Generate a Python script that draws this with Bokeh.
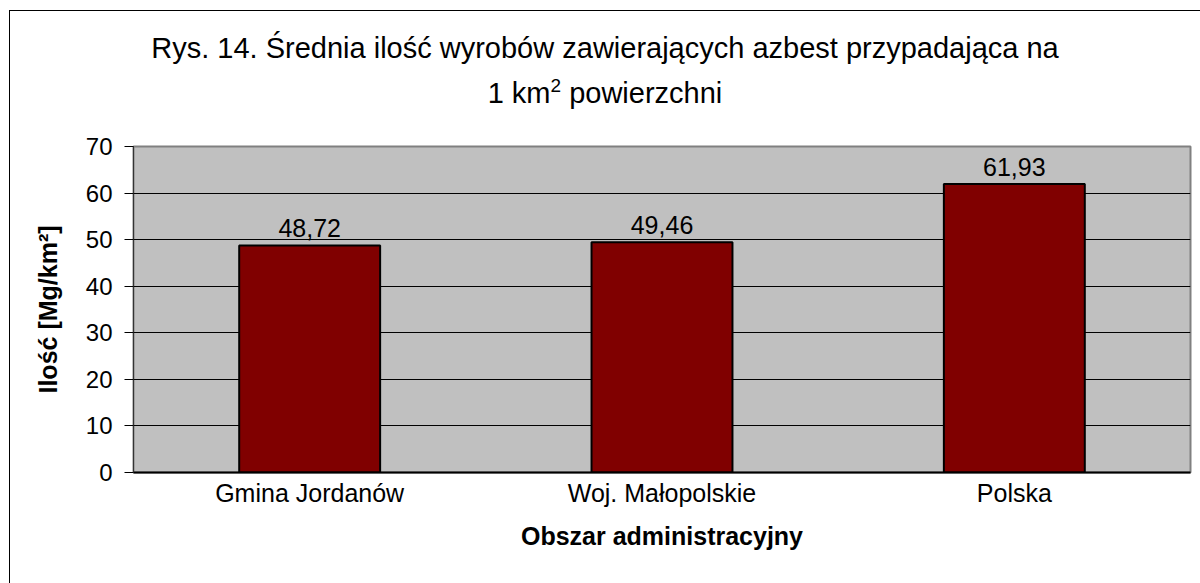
from bokeh.plotting import figure
from bokeh.layouts import column
from bokeh.models import ColumnDataSource, FactorRange, FixedTicker, Div
from bokeh.core.properties import value
from bokeh.embed import file_html
from bokeh.resources import INLINE

categories = ["Gmina Jordanów", "Woj. Małopolskie", "Polska"]
values = [48.72, 49.46, 61.93]
y_ticks = [0, 10, 20, 30, 40, 50, 60, 70]
title_line1 = "Rys. 14. Średnia ilość wyrobów zawierających azbest przypadająca na"
title_line2_pre = "1 km"
title_line2_sup = "2"
title_line2_post = " powierzchni"
x_title = "Obszar administracyjny"
y_title = "Ilość [Mg/km²]"

labels = [f"{v:.2f}".replace(".", ",") for v in values]
label_y = [v + 3.7 for v in values]
src = ColumnDataSource(dict(cat=categories, val=values, label=labels, ly=label_y))

FONT = "Liberation Sans"
W = 1190
DIV_H = 118
FIG_H = 454

title_html = (
    f'<div style="font-family:\'{FONT}\';font-size:29px;line-height:45px;'
    f'width:1178px;display:block;'
    f'text-align:center;padding-top:15px;padding-left:12px;color:black;white-space:nowrap">'
    f'{title_line1}<br>{title_line2_pre}<sup style="font-size:19px;line-height:0;'
    f'vertical-align:11px">{title_line2_sup}</sup>{title_line2_post}</div>'
)
div = Div(text=title_html, width=W, height=DIV_H, margin=0)

p = figure(x_range=FactorRange(*categories), y_range=(0, 70),
           width=W, height=FIG_H, output_backend="svg", toolbar_location=None,
           min_border_left=123, min_border_right=10, min_border_top=17,
           min_border_bottom=111, margin=0)

p.background_fill_color = "#C0C0C0"
p.border_fill_color = "white"
p.outline_line_color = "#808080"
p.outline_line_width = 2
p.xgrid.grid_line_color = None
p.ygrid.grid_line_color = "black"
p.ygrid.grid_line_width = 1

p.vbar(x="cat", top="val", width=0.4, source=src, fill_color="#800000",
       line_color="black", line_width=2)
p.text(x="cat", y="ly", text="label", source=src, text_align="center",
       text_baseline="alphabetic", text_font=value(FONT),
       text_font_size="25px", text_color="black")

ya = p.yaxis[0]
ya.ticker = FixedTicker(ticks=y_ticks)
ya.minor_tick_line_color = None
ya.major_tick_in = 0
ya.major_tick_out = 9
ya.major_tick_line_color = "black"
ya.axis_line_color = "#333333"
ya.axis_line_width = 1
ya.major_label_text_font = FONT
ya.major_label_text_font_size = "24px"
ya.major_label_text_color = "black"
ya.major_label_standoff = 12
ya.axis_label = y_title
ya.axis_label_text_font = FONT
ya.axis_label_text_font_size = "25px"
ya.axis_label_text_font_style = "bold"
ya.axis_label_text_color = "black"
ya.axis_label_standoff = 21

xa = p.xaxis[0]
xa.major_tick_line_color = None
xa.minor_tick_line_color = None
xa.axis_line_color = "black"
xa.axis_line_width = 2
xa.major_label_text_font = FONT
xa.major_label_text_font_size = "25px"
xa.major_label_text_color = "black"
xa.major_label_standoff = 0
xa.axis_label = x_title
xa.axis_label_text_font = FONT
xa.axis_label_text_font_size = "25px"
xa.axis_label_text_font_style = "bold"
xa.axis_label_text_color = "black"
xa.axis_label_standoff = 12

layout = column(div, p, spacing=0, margin=(10, 0, 0, 9),
                styles={"border-left": "1px solid black", "border-top": "1px solid black"})

open("out.html", "w").write(file_html(layout, INLINE))
